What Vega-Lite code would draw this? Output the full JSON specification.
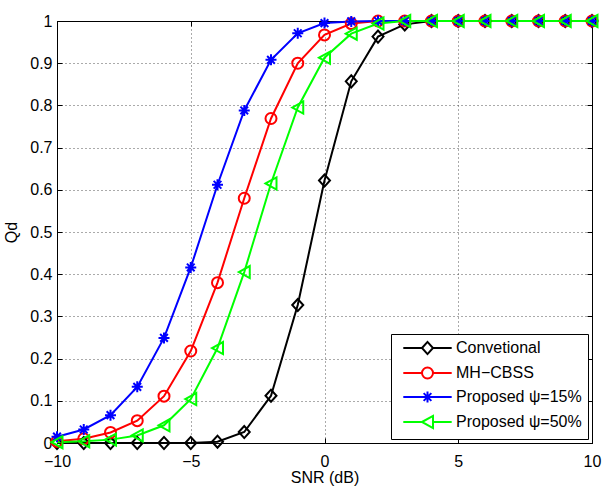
{
  "$schema": "https://vega.github.io/schema/vega-lite/v6.json",
  "width": 535,
  "height": 422,
  "autosize": "none",
  "padding": {"left": 57, "top": 21, "right": 10, "bottom": 43},
  "background": "white",
  "config": {
    "font": "Liberation Sans",
    "view": {"stroke": "black", "strokeWidth": 1},
    "axis": {
      "domainColor": "black",
      "domainWidth": 1,
      "tickColor": "black",
      "tickSize": -5,
      "labelFlush": false,
      "labelColor": "black",
      "labelFontSize": 16,
      "labelFont": "Liberation Sans",
      "titleColor": "black",
      "titleFontSize": 16,
      "titleFont": "Liberation Sans",
      "titleFontWeight": "normal",
      "gridColor": "#555555",
      "gridDash": [1, 3],
      "gridWidth": 1
    },
    "legend": {
      "title": null,
      "orient": "bottom-right",
      "offset": 4,
      "padding": 6,
      "strokeColor": "black",
      "fillColor": "white",
      "labelFontSize": 16,
      "labelFont": "Liberation Sans",
      "labelColor": "black",
      "symbolSize": 121,
      "symbolStrokeWidth": 2,
      "symbolOffset": 22.5,
      "labelOffset": 20.5,
      "rowPadding": 4
    }
  },
  "data": {
    "values": [
      {"snr": -10, "qd": 0, "scheme": "Convetional"},
      {"snr": -9, "qd": 0, "scheme": "Convetional"},
      {"snr": -8, "qd": 0, "scheme": "Convetional"},
      {"snr": -7, "qd": 0, "scheme": "Convetional"},
      {"snr": -6, "qd": 0, "scheme": "Convetional"},
      {"snr": -5, "qd": 0, "scheme": "Convetional"},
      {"snr": -4, "qd": 0.003, "scheme": "Convetional"},
      {"snr": -3, "qd": 0.026, "scheme": "Convetional"},
      {"snr": -2, "qd": 0.112, "scheme": "Convetional"},
      {"snr": -1, "qd": 0.327, "scheme": "Convetional"},
      {"snr": 0, "qd": 0.622, "scheme": "Convetional"},
      {"snr": 1, "qd": 0.857, "scheme": "Convetional"},
      {"snr": 2, "qd": 0.963, "scheme": "Convetional"},
      {"snr": 3, "qd": 0.992, "scheme": "Convetional"},
      {"snr": 4, "qd": 1, "scheme": "Convetional"},
      {"snr": 5, "qd": 1, "scheme": "Convetional"},
      {"snr": 6, "qd": 1, "scheme": "Convetional"},
      {"snr": 7, "qd": 1, "scheme": "Convetional"},
      {"snr": 8, "qd": 1, "scheme": "Convetional"},
      {"snr": 9, "qd": 1, "scheme": "Convetional"},
      {"snr": 10, "qd": 1, "scheme": "Convetional"},
      {"snr": -10, "qd": 0.004, "scheme": "MH−CBSS"},
      {"snr": -9, "qd": 0.01, "scheme": "MH−CBSS"},
      {"snr": -8, "qd": 0.025, "scheme": "MH−CBSS"},
      {"snr": -7, "qd": 0.053, "scheme": "MH−CBSS"},
      {"snr": -6, "qd": 0.111, "scheme": "MH−CBSS"},
      {"snr": -5, "qd": 0.218, "scheme": "MH−CBSS"},
      {"snr": -4, "qd": 0.38, "scheme": "MH−CBSS"},
      {"snr": -3, "qd": 0.58, "scheme": "MH−CBSS"},
      {"snr": -2, "qd": 0.769, "scheme": "MH−CBSS"},
      {"snr": -1, "qd": 0.9, "scheme": "MH−CBSS"},
      {"snr": 0, "qd": 0.967, "scheme": "MH−CBSS"},
      {"snr": 1, "qd": 0.994, "scheme": "MH−CBSS"},
      {"snr": 2, "qd": 1, "scheme": "MH−CBSS"},
      {"snr": 3, "qd": 1, "scheme": "MH−CBSS"},
      {"snr": 4, "qd": 1, "scheme": "MH−CBSS"},
      {"snr": 5, "qd": 1, "scheme": "MH−CBSS"},
      {"snr": 6, "qd": 1, "scheme": "MH−CBSS"},
      {"snr": 7, "qd": 1, "scheme": "MH−CBSS"},
      {"snr": 8, "qd": 1, "scheme": "MH−CBSS"},
      {"snr": 9, "qd": 1, "scheme": "MH−CBSS"},
      {"snr": 10, "qd": 1, "scheme": "MH−CBSS"},
      {"snr": -10, "qd": 0.015, "scheme": "Proposed ψ=15%"},
      {"snr": -9, "qd": 0.032, "scheme": "Proposed ψ=15%"},
      {"snr": -8, "qd": 0.066, "scheme": "Proposed ψ=15%"},
      {"snr": -7, "qd": 0.133, "scheme": "Proposed ψ=15%"},
      {"snr": -6, "qd": 0.249, "scheme": "Proposed ψ=15%"},
      {"snr": -5, "qd": 0.416, "scheme": "Proposed ψ=15%"},
      {"snr": -4, "qd": 0.612, "scheme": "Proposed ψ=15%"},
      {"snr": -3, "qd": 0.788, "scheme": "Proposed ψ=15%"},
      {"snr": -2, "qd": 0.908, "scheme": "Proposed ψ=15%"},
      {"snr": -1, "qd": 0.971, "scheme": "Proposed ψ=15%"},
      {"snr": 0, "qd": 0.995, "scheme": "Proposed ψ=15%"},
      {"snr": 1, "qd": 0.999, "scheme": "Proposed ψ=15%"},
      {"snr": 2, "qd": 1, "scheme": "Proposed ψ=15%"},
      {"snr": 3, "qd": 1, "scheme": "Proposed ψ=15%"},
      {"snr": 4, "qd": 1, "scheme": "Proposed ψ=15%"},
      {"snr": 5, "qd": 1, "scheme": "Proposed ψ=15%"},
      {"snr": 6, "qd": 1, "scheme": "Proposed ψ=15%"},
      {"snr": 7, "qd": 1, "scheme": "Proposed ψ=15%"},
      {"snr": 8, "qd": 1, "scheme": "Proposed ψ=15%"},
      {"snr": 9, "qd": 1, "scheme": "Proposed ψ=15%"},
      {"snr": 10, "qd": 1, "scheme": "Proposed ψ=15%"},
      {"snr": -10, "qd": 0.002, "scheme": "Proposed ψ=50%"},
      {"snr": -9, "qd": 0.004, "scheme": "Proposed ψ=50%"},
      {"snr": -8, "qd": 0.008, "scheme": "Proposed ψ=50%"},
      {"snr": -7, "qd": 0.018, "scheme": "Proposed ψ=50%"},
      {"snr": -6, "qd": 0.042, "scheme": "Proposed ψ=50%"},
      {"snr": -5, "qd": 0.104, "scheme": "Proposed ψ=50%"},
      {"snr": -4, "qd": 0.225, "scheme": "Proposed ψ=50%"},
      {"snr": -3, "qd": 0.405, "scheme": "Proposed ψ=50%"},
      {"snr": -2, "qd": 0.615, "scheme": "Proposed ψ=50%"},
      {"snr": -1, "qd": 0.795, "scheme": "Proposed ψ=50%"},
      {"snr": 0, "qd": 0.913, "scheme": "Proposed ψ=50%"},
      {"snr": 1, "qd": 0.97, "scheme": "Proposed ψ=50%"},
      {"snr": 2, "qd": 0.994, "scheme": "Proposed ψ=50%"},
      {"snr": 3, "qd": 1, "scheme": "Proposed ψ=50%"},
      {"snr": 4, "qd": 1, "scheme": "Proposed ψ=50%"},
      {"snr": 5, "qd": 1, "scheme": "Proposed ψ=50%"},
      {"snr": 6, "qd": 1, "scheme": "Proposed ψ=50%"},
      {"snr": 7, "qd": 1, "scheme": "Proposed ψ=50%"},
      {"snr": 8, "qd": 1, "scheme": "Proposed ψ=50%"},
      {"snr": 9, "qd": 1, "scheme": "Proposed ψ=50%"},
      {"snr": 10, "qd": 1, "scheme": "Proposed ψ=50%"}
    ]
  },
  "layer": [
    {
      "mark": {"type": "line", "strokeWidth": 2, "clip": false},
      "encoding": {
        "x": {
          "field": "snr", "type": "quantitative",
          "scale": {"domain": [-10, 10], "nice": false, "zero": false},
          "axis": {"values": [-10, -5, 0, 5, 10], "grid": true, "title": "SNR (dB)", "labelPadding": 15, "titlePadding": 0}
        },
        "y": {
          "field": "qd", "type": "quantitative",
          "scale": {"domain": [0, 1], "nice": false},
          "axis": {"values": [0, 0.1, 0.2, 0.3, 0.4, 0.5, 0.6, 0.7, 0.8, 0.9, 1], "format": "~g", "grid": true, "title": "Qd", "labelPadding": 10, "titlePadding": 10}
        },
        "color": {
          "field": "scheme", "type": "nominal",
          "scale": {"domain": ["Convetional", "MH−CBSS", "Proposed ψ=15%", "Proposed ψ=50%"], "range": ["#000000", "#ff0000", "#0000ff", "#00ff00"]},
          "legend": {
            "encode": {
              "symbols": {
                "update": {
                  "shape": {"signal": "['M-4.4,0H-1M1,0H4.4M-1,0L0,-1.1L1,0L0,1.1Z', 'M-4.4,0H-1M1,0H4.4M-1,0A1,1,0,1,1,1,0A1,1,0,1,1,-1,0Z', 'M-4.4,0H4.4M0,-1V1M-0.7,-0.7L0.7,0.7M-0.7,0.7L0.7,-0.7', 'M-4.4,0H-1M-1,0L1,-1.1L1,1.1ZM1,0H4.4'][datum.index]"},
                  "fill": {"value": "transparent"},
                  "strokeWidth": {"value": 2}
                }
              }
            }
          }
        }
      }
    },
    {
      "transform": [{"filter": "datum.scheme === 'Convetional'"}],
      "mark": {"type": "point", "filled": false, "size": 121, "strokeWidth": 2, "opacity": 1, "clip": false, "color": "#000000", "shape": "M-1,0L0,-1.1L1,0L0,1.1Z"},
      "encoding": {
        "x": {
          "field": "snr", "type": "quantitative",
          "axis": {"orient": "top", "values": [-10, -5, 0, 5, 10], "labels": false, "title": null, "grid": false}
        },
        "y": {
          "field": "qd", "type": "quantitative",
          "axis": {"orient": "right", "values": [0, 0.1, 0.2, 0.3, 0.4, 0.5, 0.6, 0.7, 0.8, 0.9, 1], "labels": false, "title": null, "grid": false}
        }
      }
    },
    {
      "transform": [{"filter": "datum.scheme === 'MH−CBSS'"}],
      "mark": {"type": "point", "filled": false, "size": 121, "strokeWidth": 2, "opacity": 1, "clip": false, "color": "#ff0000", "shape": "circle"},
      "encoding": {
        "x": {"field": "snr", "type": "quantitative", "axis": null},
        "y": {"field": "qd", "type": "quantitative", "axis": null}
      }
    },
    {
      "transform": [{"filter": "datum.scheme === 'Proposed ψ=15%'"}],
      "mark": {"type": "point", "filled": false, "size": 121, "strokeWidth": 2, "opacity": 1, "clip": false, "color": "#0000ff", "shape": "M-1,0H1M0,-1V1M-0.7,-0.7L0.7,0.7M-0.7,0.7L0.7,-0.7"},
      "encoding": {
        "x": {"field": "snr", "type": "quantitative", "axis": null},
        "y": {"field": "qd", "type": "quantitative", "axis": null}
      }
    },
    {
      "transform": [{"filter": "datum.scheme === 'Proposed ψ=50%'"}],
      "mark": {"type": "point", "filled": false, "size": 121, "strokeWidth": 2, "opacity": 1, "clip": false, "color": "#00ff00", "shape": "M-1,0L1,-1.1L1,1.1Z"},
      "encoding": {
        "x": {"field": "snr", "type": "quantitative", "axis": null},
        "y": {"field": "qd", "type": "quantitative", "axis": null}
      }
    }
  ],
  "resolve": {"axis": {"x": "independent", "y": "independent"}}
}
